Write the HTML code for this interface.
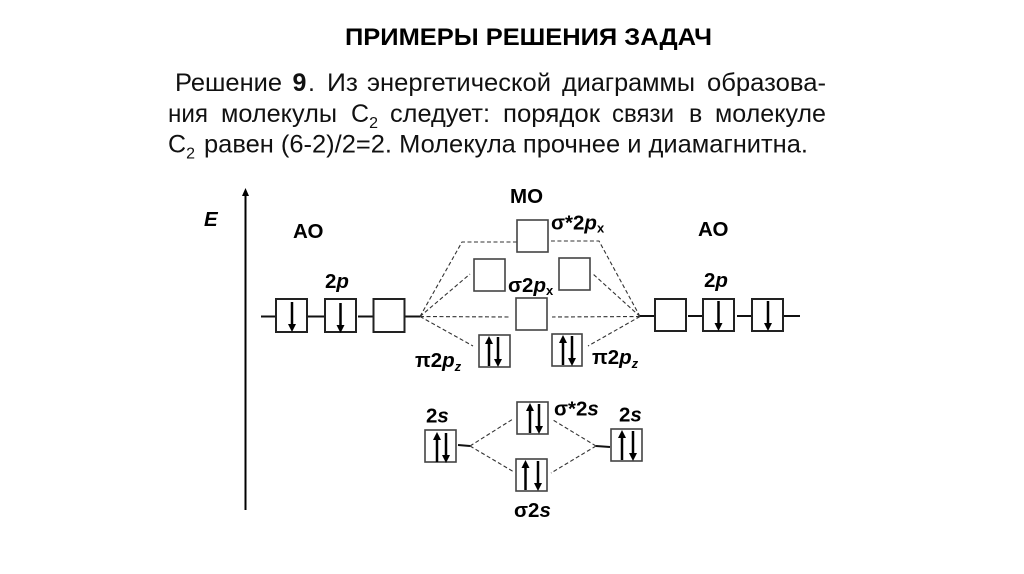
<!DOCTYPE html>
<html><head><meta charset="utf-8"><style>
html,body{margin:0;padding:0;background:#fff}
svg{display:block}
text{font-family:"Liberation Sans",sans-serif;fill:#000}
.b{font-weight:bold;font-size:20.5px}
.t{font-size:25px;fill:#111}
.s{font-size:13px}
.box{fill:#fff;stroke:#444;stroke-width:1.6}
.ao{fill:#fff;stroke:#222;stroke-width:2}
.d{fill:none;stroke:#333;stroke-width:1.1;stroke-dasharray:4 2.5}
.l{stroke:#111;stroke-width:2;fill:none}
.a{stroke:#000;stroke-width:2.5;fill:none}
</style></head><body>
<svg width="1024" height="574" viewBox="0 0 1024 574" xmlns="http://www.w3.org/2000/svg">
<defs>
<g id="dn"><line x1="0" y1="0" x2="0" y2="23" class="a"/><path d="M-4 22L4 22L0 30Z" fill="#000"/></g>
<g id="up"><line x1="0" y1="7" x2="0" y2="30" class="a"/><path d="M-4 8L4 8L0 0Z" fill="#000"/></g>
</defs>
<text x="345" y="45" font-size="24" font-weight="bold" textLength="367" lengthAdjust="spacingAndGlyphs">ПРИМЕРЫ РЕШЕНИЯ ЗАДАЧ</text>

<text class="t" x="175" y="91" textLength="107" lengthAdjust="spacingAndGlyphs">Решение</text>
<text class="t" x="292.5" y="91" font-weight="bold">9</text>
<text class="t" x="308" y="91">.</text>
<text class="t" x="327" y="91" textLength="31" lengthAdjust="spacingAndGlyphs">Из</text>
<text class="t" x="367" y="91" textLength="184" lengthAdjust="spacingAndGlyphs">энергетической</text>
<text class="t" x="562" y="91" textLength="133" lengthAdjust="spacingAndGlyphs">диаграммы</text>
<text class="t" x="707" y="91" textLength="119" lengthAdjust="spacingAndGlyphs">образова-</text>

<text class="t" x="168" y="122" textLength="40" lengthAdjust="spacingAndGlyphs">ния</text>
<text class="t" x="221" y="122" textLength="116" lengthAdjust="spacingAndGlyphs">молекулы</text>
<text class="t" x="351" y="122">С<tspan font-size="16" dy="6">2</tspan></text>
<text class="t" x="390" y="122" textLength="100" lengthAdjust="spacingAndGlyphs">следует:</text>
<text class="t" x="503" y="122" textLength="97" lengthAdjust="spacingAndGlyphs">порядок</text>
<text class="t" x="612" y="122" textLength="62" lengthAdjust="spacingAndGlyphs">связи</text>
<text class="t" x="689" y="122">в</text>
<text class="t" x="715" y="122" textLength="111" lengthAdjust="spacingAndGlyphs">молекуле</text>

<text class="t" x="168" y="152.5">С<tspan font-size="16" dy="6">2</tspan></text>
<text class="t" x="204" y="152.5" textLength="604" lengthAdjust="spacingAndGlyphs">равен (6-2)/2=2. Молекула прочнее и диамагнитна.</text>

<!-- axis -->
<line x1="245.5" y1="194" x2="245.5" y2="510" stroke="#000" stroke-width="2"/>
<path d="M242 196L249 196L245.5 188Z" fill="#000"/>

<!-- dashed -->
<path class="d" d="M420 316.5L462 242L518 242M420 316.5L470 274M420 316.5L510 317M420 316.5L473 346"/>
<path class="d" d="M640 316.5L599 241L551 241M640 316.5L593 274M640 316.5L552 317M640 316.5L588 346"/>
<path class="d" d="M470 446L513 419M470 446L514 472M596 446L553 420M596 446L551 473"/>

<!-- solid lines -->
<path class="l" d="M261 316.5H276M308 316.5H325M358 316.5H373M405 316.5H420M640 316H655M688 316H703M737 316H752M784 316H800M458 445L470 446M596 446L610 447"/>

<!-- AO boxes -->
<rect class="ao" x="276" y="299" width="31" height="33"/>
<rect class="ao" x="325" y="299" width="31" height="33"/>
<rect class="ao" x="373.5" y="299" width="31" height="33"/>
<rect class="ao" x="655" y="299" width="31" height="32"/>
<rect class="ao" x="703" y="299" width="31" height="32"/>
<rect class="ao" x="752" y="299" width="31" height="32"/>
<use href="#dn" x="292" y="302"/><use href="#dn" x="340.5" y="303"/>
<use href="#dn" x="718.5" y="301"/><use href="#dn" x="768" y="301"/>

<!-- MO boxes -->
<rect class="box" x="517" y="220" width="31" height="32"/>
<rect class="box" x="474" y="259" width="31" height="32"/>
<rect class="box" x="559" y="258" width="31" height="32"/>
<rect class="box" x="516" y="298" width="31" height="32"/>
<rect class="box" x="479" y="335" width="31" height="32"/>
<rect class="box" x="552" y="334" width="30" height="32"/>
<rect class="box" x="425" y="430" width="31" height="32"/>
<rect class="box" x="517" y="402" width="31" height="32"/>
<rect class="box" x="516" y="459" width="31" height="32"/>
<rect class="box" x="611" y="429" width="31" height="32"/>

<use href="#up" x="489" y="336"/><use href="#dn" x="498" y="337"/>
<use href="#up" x="563" y="335"/><use href="#dn" x="572" y="336"/>
<use href="#up" x="437" y="432"/><use href="#dn" x="446" y="433"/>
<use href="#up" x="530" y="403"/><use href="#dn" x="539" y="404"/>
<use href="#up" x="525.5" y="460"/><use href="#dn" x="538" y="461"/>
<use href="#up" x="622" y="430"/><use href="#dn" x="633" y="431"/>

<!-- labels -->
<text class="b" x="204" y="226"><tspan font-style="italic">E</tspan></text>
<text class="b" x="293" y="238">АО</text>
<text class="b" x="698" y="236">АО</text>
<text class="b" x="510" y="203">МО</text>
<text class="b" x="325" y="288">2<tspan font-style="italic">p</tspan></text>
<text class="b" x="704" y="287">2<tspan font-style="italic">p</tspan></text>
<text class="b" x="551" y="229.5">σ*2<tspan font-style="italic">p</tspan><tspan class="s" dy="3">x</tspan></text>
<text class="b" x="508" y="292">σ2<tspan font-style="italic">p</tspan><tspan class="s" dy="3">x</tspan></text>
<text class="b" x="415" y="367">π2<tspan font-style="italic">p</tspan><tspan class="s" dy="4" font-style="italic">z</tspan></text>
<text class="b" x="592" y="364">π2<tspan font-style="italic">p</tspan><tspan class="s" dy="4" font-style="italic">z</tspan></text>
<text class="b" x="426" y="422.5">2<tspan font-style="italic">s</tspan></text>
<text class="b" x="619" y="421.5">2<tspan font-style="italic">s</tspan></text>
<text class="b" x="554" y="415.5">σ*2<tspan font-style="italic">s</tspan></text>
<text class="b" x="514" y="517">σ2<tspan font-style="italic">s</tspan></text>
</svg>
</body></html>
